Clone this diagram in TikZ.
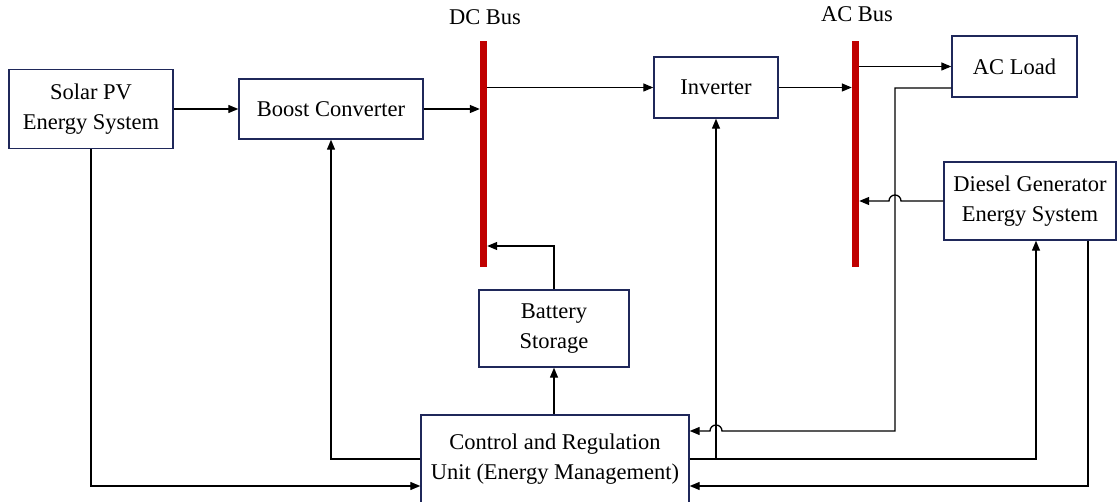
\documentclass[tikz,border=0pt]{standalone}
\usepackage{fontspec}
\setmainfont{Liberation Serif}
\usetikzlibrary{arrows.meta,calc}
\definecolor{busred}{RGB}{192,0,0}
\definecolor{boxblue}{RGB}{31,40,90}
\begin{document}
\begin{tikzpicture}[x=1pt,y=-1pt,
 box/.style={draw=boxblue,line width=1.4pt,fill=white,align=center,font=\fontsize{22.5}{30}\selectfont,inner sep=0pt},
 bus/.style={fill=busred,draw=none,minimum width=7pt,minimum height=226pt,inner sep=0pt},
 wire/.style={line width=1.3pt,black},
 arr/.style={wire,-{Triangle[length=10pt,width=8pt]}},
 lbl/.style={font=\fontsize{22.5}{24}\selectfont}]
\useasboundingbox (0,0) rectangle (1120,502);
% buses
\node[bus] (dc) at (483.5,154) {};
\node[bus] (ac) at (855.5,154) {};
\node[lbl] (dcl) at (485,17) {DC Bus};
\node[lbl] (acl) at (857,14) {AC Bus};
% boxes
\node[box,minimum width=164pt,minimum height=79pt] (pv) at (91,109) {Solar PV\\Energy System};
\node[box,minimum width=184pt,minimum height=60pt] (boost) at (331,109) {Boost Converter};
\node[box,minimum width=124pt,minimum height=61pt] (inv) at (716,87.5) {Inverter};
\node[box,minimum width=125pt,minimum height=61pt] (load) at (1014.5,66.5) {AC Load};
\node[box,minimum width=172pt,minimum height=78pt] (diesel) at (1030,201) {Diesel Generator\\Energy System};
\node[box,minimum width=150pt,minimum height=77pt] (batt) at (554,328.5) {Battery\\Storage};
\node[box,minimum width=268pt,minimum height=88pt] (ctrl) at (555,459) {Control and Regulation\\Unit (Energy Management)};
% helper coordinates
\coordinate (lf) at (895,88);
\coordinate (lfd) at (895,431);
\coordinate (jc) at (716,431);
\coordinate (bj) at (554,246);
\coordinate (dgin) at (1036,0);
\coordinate (dgout) at (1088,0);
\coordinate (pvl) at (0,486);
% power flow
\draw[arr] (pv.east) -- (boost.west);
\draw[arr] (boost.east) -- (boost.east -| dc.west);
\draw[arr] (dc.east |- inv.west) -- (inv.west);
\draw[arr] (inv.east) -- (inv.east -| ac.west);
\draw[arr] (ac.east |- load.west) -- (load.west);
\draw[arr] (batt.north) -- (bj) -- (bj -| dc.east);
\draw[arr] (diesel.west) -- ($(diesel.west -| lf)+(6,0)$) arc[start angle=0,end angle=180,radius=6pt] -- (diesel.west -| ac.east);
% control / measurement
\draw[arr] (lf -| load.west) -- (lf) -- (lfd) -- ($(jc)+(6,0)$) arc[start angle=0,end angle=180,radius=6pt] -- (lfd -| ctrl.east);
\draw[arr] (batt.south |- ctrl.north) -- (batt.south);
\draw[arr] (ctrl.west) -| (boost.south);
\draw[arr] (ctrl.east) -| (dgin |- diesel.south);
\draw[arr] (ctrl.east -| inv.south) -- (inv.south);
\draw[arr] (pv.south) |- (pvl -| ctrl.west);
\draw[arr] (dgout |- diesel.south) |- (pvl -| ctrl.east);
\end{tikzpicture}
\end{document}
